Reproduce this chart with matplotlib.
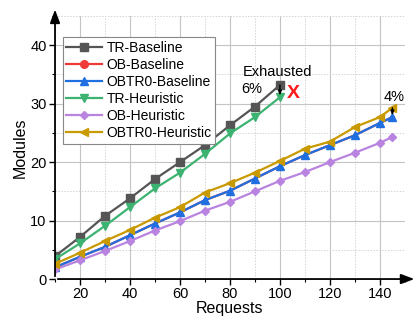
import matplotlib.pyplot as plt
from matplotlib.ticker import MultipleLocator

plt.rcParams['font.family'] = ['Liberation Sans', 'DejaVu Sans']

# Data
req_short = [10, 20, 30, 40, 50, 60, 70, 80, 90, 100]
req_long = [10, 20, 30, 40, 50, 60, 70, 80, 90, 100, 110, 120, 130, 140, 145]

tr_baseline = [3.9, 7.2, 10.8, 13.8, 17.1, 20.0, 22.9, 26.3, 29.5, 33.2]
tr_heuristic = [3.4, 6.1, 9.1, 12.3, 15.5, 18.2, 21.4, 24.9, 27.7, 31.1]
ob_baseline = [2.0, 3.8, 5.5, 7.5, 9.5, 11.4, 13.5, 15.1, 17.2, 19.3, 21.2, 22.9, 24.6, 26.7, 27.7]
obtr0_baseline = [2.0, 3.8, 5.5, 7.5, 9.5, 11.4, 13.5, 15.1, 17.2, 19.3, 21.2, 22.9, 24.6, 26.7, 27.7]
ob_heuristic = [1.65, 3.2, 4.8, 6.5, 8.3, 9.9, 11.7, 13.2, 15.0, 16.8, 18.3, 20.0, 21.6, 23.3, 24.3]
obtr0_heuristic = [2.6, 4.5, 6.5, 8.4, 10.5, 12.3, 14.8, 16.4, 18.2, 20.2, 22.3, 23.5, 26.0, 27.7, 29.3]

series = [
    ("TR-Baseline", req_short, tr_baseline, "#555555", "s"),
    ("OB-Baseline", req_long, ob_baseline, "#f03a3a", "o"),
    ("OBTR0-Baseline", req_long, obtr0_baseline, "#1f6fe0", "^"),
    ("TR-Heuristic", req_short, tr_heuristic, "#3cb371", "v"),
    ("OB-Heuristic", req_long, ob_heuristic, "#b983e0", "D"),
    ("OBTR0-Heuristic", req_long, obtr0_heuristic, "#c99a00", "<"),
]

fig = plt.figure(figsize=(4.2, 3.2), dpi=100)
ax = fig.add_axes([0.131, 0.128, 0.833, 0.822])

handles = []
for name, xs, ys, col, mk in series:
    ms = 4.5 if mk == "D" else 5.5
    if name == "OB-Baseline":
        # hidden beneath OBTR0-Baseline in the reference
        ax.plot(xs, ys, color=col, marker=mk, markersize=2.5, lw=1.6)
        h, = ax.plot([], [], color=col, marker=mk, markersize=ms, lw=1.6, label=name)
    else:
        h, = ax.plot(xs, ys, color=col, marker=mk, markersize=ms, lw=1.6, label=name)
    handles.append(h)

ax.set_xlim(10, 150)
ax.set_ylim(0, 45)
ax.xaxis.set_major_locator(MultipleLocator(20))
ax.xaxis.set_minor_locator(MultipleLocator(10))
ax.yaxis.set_major_locator(MultipleLocator(10))
ax.yaxis.set_minor_locator(MultipleLocator(5))
ax.grid(which='major', color='#c4c4c4', lw=0.8)
ax.grid(which='minor', color='#d4d4d4', lw=0.7, ls=(0, (1.5, 1.5)))
ax.set_axisbelow(True)

for s in ['top', 'right', 'left', 'bottom']:
    ax.spines[s].set_visible(False)
# axis lines with arrow heads
ax.annotate('', xy=(1.035, 0), xytext=(0, 0), xycoords='axes fraction',
            arrowprops=dict(arrowstyle='-|>,head_length=0.8,head_width=0.3', color='black', lw=1.3))
ax.annotate('', xy=(0, 1.035), xytext=(0, 0), xycoords='axes fraction',
            arrowprops=dict(arrowstyle='-|>,head_length=0.8,head_width=0.3', color='black', lw=1.3))

ax.tick_params(which='major', direction='out', length=4, width=1, labelsize=10.5, pad=2)
ax.tick_params(which='minor', direction='out', length=2.5, width=0.8)
ax.set_xlabel('Requests', fontsize=11.5, labelpad=0)
ax.set_ylabel('Modules', fontsize=11.5, labelpad=2)

# annotations
ax.text(99.2, 35.4, 'Exhausted', fontsize=10.5, ha='center', va='center')
ax.text(88.8, 32.5, '6%', fontsize=10.5, ha='center', va='center')
ax.text(105.5, 31.8, 'X', fontsize=14, color='#ff1a1a', fontweight='bold', ha='center', va='center')
ax.text(145.6, 31.1, '4%', fontsize=10.5, ha='center', va='center')
ax.annotate('', xy=(100, tr_heuristic[-1] + 0.3), xytext=(100, tr_baseline[-1]),
            arrowprops=dict(arrowstyle='-|>,head_length=0.25,head_width=0.1', color='black', lw=1,
                            shrinkA=0, shrinkB=0))
ax.annotate('', xy=(145, obtr0_baseline[-1] + 0.3), xytext=(145, obtr0_heuristic[-1]),
            arrowprops=dict(arrowstyle='-|>,head_length=0.25,head_width=0.1', color='black', lw=1,
                            shrinkA=0, shrinkB=0))

leg = ax.legend(handles=handles, loc='upper left', bbox_to_anchor=(0.022, 0.919), fontsize=10,
                frameon=True, fancybox=False, edgecolor='#888888', framealpha=1, handlelength=2.6,
                handletextpad=0.3, labelspacing=0.22, borderpad=0.25, borderaxespad=0)
leg.get_frame().set_linewidth(0.8)

fig.savefig('out.png', dpi=100)
